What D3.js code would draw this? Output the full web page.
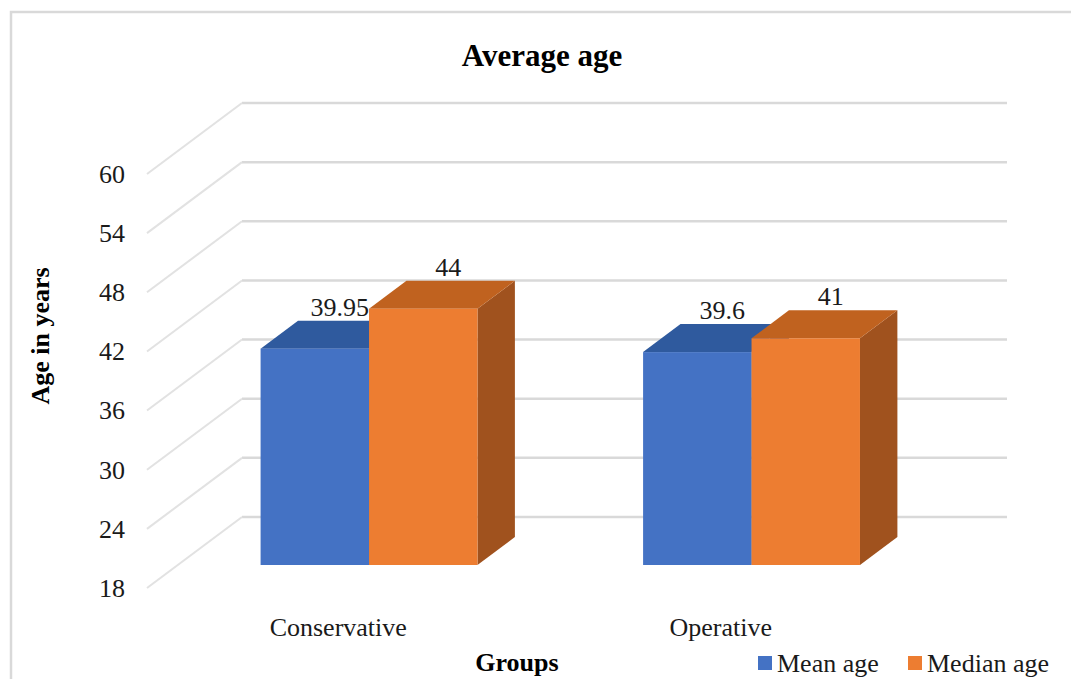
<!DOCTYPE html>
<html>
<head>
<meta charset="utf-8">
<script src="https://cdn.jsdelivr.net/npm/d3@7/dist/d3.min.js"></script>
<style>
  html, body { margin: 0; padding: 0; background: #fff; }
  svg, svg text { font-family: "Liberation Serif", "Times New Roman", serif; }
</style>
</head>
<body>
<svg id="chart" width="1071" height="679"></svg>
<script>
// Chart data
const categories = ["Conservative", "Operative"];
const seriesNames = ["Mean age", "Median age"];
const meanAge = [39.95, 39.6];
const medianAge = [44, 41];
const yTicks = [18, 24, 30, 36, 42, 48, 54, 60];

const seriesValues = [meanAge, medianAge];
const faceColors = {
  "Mean age":   { front: "#4472C4", top: "#2F5A9E", side: "#2B4F8C" },
  "Median age": { front: "#ED7D31", top: "#C0621F", side: "#A0521E" }
};
const FONT = "'Liberation Serif', 'Times New Roman', serif";

const svg = d3.select("#chart").attr("font-family", FONT);

// Oblique 3D projection: front plane (depth 0) to back wall (depth 1)
const DX = 95, DY = -71;
const y = d3.scaleLinear().domain([18, 60]).range([588, 174]);
const x = d3.scaleBand().domain(categories).range([147, 912]).padding(0);
const groupWidth = x.bandwidth() * 0.567;
const sub = d3.scaleBand().domain(seriesNames).range([0, groupWidth]).padding(0);
const barD0 = 0.324, barD1 = 0.718;
const backRight = 1007;

const P = (xf, v, d) => [xf + DX * d, y(v) + DY * d];

// Chart border
svg.append("rect")
  .attr("x", 11).attr("y", 12).attr("width", 1100).attr("height", 700)
  .attr("fill", "none").attr("stroke", "#d9d9d9").attr("stroke-width", 2.5);

// Back wall gridlines and side wall lines
const grid = svg.append("g");
yTicks.forEach(v => {
  const b = P(x.range()[0], v, 1);
  const f = P(x.range()[0], v, 0);
  grid.append("line")
    .attr("x1", b[0]).attr("y1", b[1]).attr("x2", backRight).attr("y2", b[1])
    .attr("stroke", "#d9d9d9").attr("stroke-width", 2.5);
  grid.append("line")
    .attr("x1", f[0]).attr("y1", f[1]).attr("x2", b[0]).attr("y2", b[1])
    .attr("stroke", "#e2e2e2").attr("stroke-width", 2);
});

// Y axis labels
const yAxis = d3.axisLeft(y).tickValues(yTicks).tickSize(0).tickPadding(22);
const yg = svg.append("g").attr("transform", `translate(${x.range()[0]},0)`).call(yAxis)
  .attr("font-family", FONT).attr("font-size", 26);
yg.select(".domain").remove();
yg.selectAll("text").attr("font-family", FONT).attr("font-size", 26).attr("fill", "#1a1a1a");

// Bars
const bars = svg.append("g");
const labels = [];
categories.forEach((cat, ci) => {
  seriesNames.forEach((s, si) => {
    const v = seriesValues[si][ci];
    const xl = x(cat) + (x.bandwidth() - groupWidth) / 2 + sub(s);
    const xr = xl + sub.bandwidth();
    const c = faceColors[s];
    const pts = arr => arr.map(p => p.join(",")).join(" ");
    // right side face
    bars.append("polygon")
      .attr("points", pts([P(xr, 18, barD0), P(xr, 18, barD1), P(xr, v, barD1), P(xr, v, barD0)]))
      .attr("fill", c.side);
    // top face
    bars.append("polygon")
      .attr("points", pts([P(xl, v, barD0), P(xr, v, barD0), P(xr, v, barD1), P(xl, v, barD1)]))
      .attr("fill", c.top);
    // front face
    const fl = P(xl, v, barD0), fr = P(xr, 18, barD0);
    bars.append("rect")
      .attr("x", fl[0]).attr("y", fl[1])
      .attr("width", fr[0] - fl[0]).attr("height", fr[1] - fl[1])
      .attr("fill", c.front);
    labels.push({ x: (fl[0] + fr[0]) / 2 + 25, y: fl[1] - 42, v });
  });
});

// Value labels
svg.append("g").selectAll("text").data(labels).join("text")
  .attr("x", d => d.x).attr("y", d => d.y).attr("dy", "0.35em")
  .attr("text-anchor", "middle").attr("font-family", FONT).attr("font-size", 26).attr("fill", "#1a1a1a")
  .text(d => d.v);

// Category labels
svg.append("g").selectAll("text").data(categories).join("text")
  .attr("x", d => x(d) + x.bandwidth() / 2).attr("y", 627).attr("dy", "0.35em")
  .attr("text-anchor", "middle").attr("font-family", FONT).attr("font-size", 26).attr("fill", "#1a1a1a")
  .text(d => d);

// Title
svg.append("text")
  .attr("x", 542).attr("y", 55).attr("dy", "0.35em")
  .attr("text-anchor", "middle").attr("font-family", FONT).attr("font-size", 31).attr("font-weight", "bold")
  .text("Average age");

// Axis titles
svg.append("text")
  .attr("x", 517).attr("y", 662).attr("dy", "0.35em")
  .attr("text-anchor", "middle").attr("font-family", FONT).attr("font-size", 26).attr("font-weight", "bold")
  .text("Groups");
svg.append("text")
  .attr("transform", "translate(40,336) rotate(-90)").attr("dy", "0.35em")
  .attr("text-anchor", "middle").attr("font-family", FONT).attr("font-size", 26).attr("font-weight", "bold")
  .text("Age in years");

// Legend
const legendX = [758, 908];
const legend = svg.append("g").selectAll("g").data(seriesNames).join("g")
  .attr("transform", (d, i) => `translate(${legendX[i]},663)`);
legend.append("rect").attr("x", 0).attr("y", -7).attr("width", 14).attr("height", 14)
  .attr("fill", d => faceColors[d].front);
legend.append("text").attr("x", 19).attr("dy", "0.35em")
  .attr("font-family", FONT).attr("font-size", 26).attr("fill", "#1a1a1a").text(d => d);
</script>
</body>
</html>
